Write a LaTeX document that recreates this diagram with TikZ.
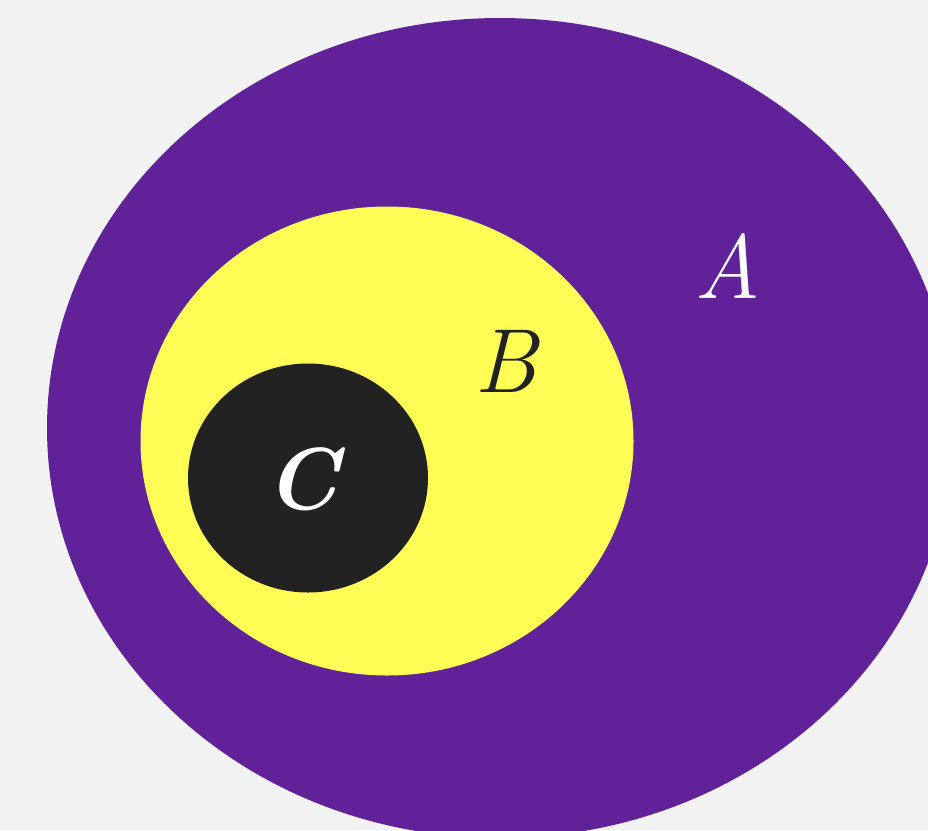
\documentclass[tikz,border=0pt]{standalone}
\usepackage{fontspec}
\usetikzlibrary{shapes.geometric}
\definecolor{bgc}{HTML}{F2F2F2}
\definecolor{purp}{HTML}{612199}
\definecolor{yel}{HTML}{FEFC55}
\definecolor{blk}{HTML}{222222}
\tikzset{
  blob/.style={ellipse, draw=none, inner sep=0pt},
  lab/.style={inner sep=0pt, font=\fontsize{91}{91}\selectfont\itshape}
}
\begin{document}
\begin{tikzpicture}[x=1pt,y=-1pt]
\useasboundingbox (0,0) rectangle (928,830);
\fill[bgc] (0,0) rectangle (928,830);
\clip (0,0) rectangle (928,830);
\node[blob, fill=purp, minimum width=906pt, minimum height=820pt] (A) at (500,428) {};
\node[blob, fill=yel, minimum width=493pt, minimum height=469pt] (B) at (387,441) {};
\node[blob, fill=blk, minimum width=240pt, minimum height=229pt] (C) at (308,478) {};
\node[lab, text=white] (la) at (728,266) {A};
\node[lab, text=blk] (lb) at (506,361) {B};
\node[lab, text=white, font=\fontsize{88}{88}\selectfont\bfseries\itshape] (lc) at (302,479) {C};
\end{tikzpicture}
\end{document}
